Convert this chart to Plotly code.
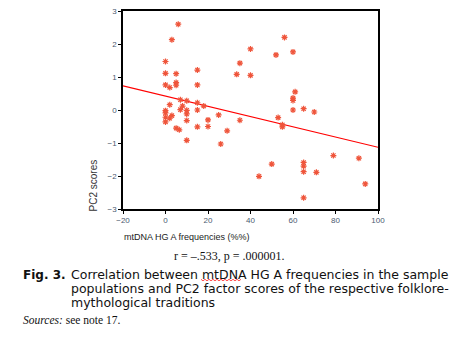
import plotly.graph_objects as go

hg_a = [6, 3, 0, 0, 5, 0, 2, 5, 5, 15, 15, 7, 10, 2, 8, 15, 18, 7, 10, 15,
        0, 0, 0, 0, 2, 3, 5, 6.5, 10, 10, 10, 15, 20, 20, 25, 26, 29, 35,
        33.5, 35, 40, 40, 56, 52, 60, 61, 60, 60, 60, 65, 70, 53, 55, 55,
        44, 50, 65, 65, 65, 71, 65, 79, 91, 94]
pc2 = [2.6, 2.13, 1.47, 1.11, 1.1, 0.76, 0.68, 0.83, 0.75, 1.21, 0.76, 0.31,
       0.28, 0.16, 0.12, 0.22, 0.12, 0.01, -0.01, 0.0,
       -0.02, -0.09, -0.22, -0.36, -0.25, -0.17, -0.55, -0.6, -0.12, -0.32,
       -0.92, -0.51, -0.3, -0.5, -0.15, -1.03, -0.63, -0.31,
       1.08, 1.42, 1.85, 1.05, 2.2, 1.67, 1.76, 0.55, 0.36, 0.29, 0.0, 0.04,
       -0.06, -0.23, -0.45, -0.51,
       -2.01, -1.64, -1.59, -1.7, -1.87, -1.89, -2.66, -1.38, -1.46, -2.24]

fit_x = [-20, 100]
fit_y = [0.73, -1.13]

x_ticks = [-20, 0, 20, 40, 60, 80, 100]
y_ticks = [-3, -2, -1, 0, 1, 2, 3]

fig = go.Figure()
fig.add_trace(go.Scatter(x=fit_x, y=fit_y, mode="lines",
                         line=dict(color="#ff0000", width=1.2),
                         showlegend=False, hoverinfo="skip"))
fig.add_trace(go.Scatter(x=hg_a, y=pc2, mode="markers",
                         marker=dict(symbol="asterisk-open", size=5,
                                     line=dict(color="#ff0000", width=1.2)),
                         showlegend=False))

tick_font = dict(family="Liberation Sans, Arial", size=8, color="#4a5a70")
fig.update_xaxes(range=[-20, 100], tickvals=x_ticks, ticks="outside", ticklen=3,
                 tickcolor="black", showline=True, linecolor="black", linewidth=1.6,
                 mirror=True, showgrid=False, zeroline=False, tickfont=tick_font)
fig.update_yaxes(range=[-3, 3], tickvals=y_ticks, ticks="outside", ticklen=3,
                 tickcolor="black", showline=True, linecolor="black", linewidth=1.6,
                 mirror=True, showgrid=False, zeroline=False, tickfont=tick_font)

L, R, T, B = 123, 378, 7, 209
fig.update_layout(
    width=459, height=340,
    margin=dict(l=L, r=459 - R, t=T, b=340 - B),
    paper_bgcolor="white", plot_bgcolor="white",
)

def px(x, y):
    return (x - L) / (R - L), (B - y) / (B - T)

def add_text(text, x, y, font, xanchor="left", yanchor="middle", angle=0):
    xp, yp = px(x, y)
    fig.add_annotation(text=text, x=xp, y=yp, xref="paper", yref="paper",
                       showarrow=False, xanchor=xanchor, yanchor=yanchor,
                       textangle=angle, font=font)

add_text("PC2 scores", 93, 185,
         dict(family="Liberation Sans, Arial", size=10, color="#333"),
         xanchor="center", angle=-90)
add_text("mtDNA HG A frequencies (%%)", 122, 238,
         dict(family="Liberation Sans, Arial", size=9, color="#222"))
add_text("r = \u2013.533, p = .000001.", 229, 257,
         dict(family="Liberation Serif, Times New Roman", size=12, color="#111"),
         xanchor="center")
vfont = dict(family="DejaVu Sans, Verdana", size=12.5, color="#111")
add_text("<b>Fig. 3.</b>", 21, 276, dict(family="DejaVu Sans, Verdana", size=12, color="#111"))
add_text("Correlation between mtDNA HG A frequencies in the sample", 69, 276, vfont)
add_text("populations and PC2 factor scores of the respective folklore-", 69, 290, vfont)
add_text("mythological traditions", 69, 304, vfont)
add_text("<i>Sources:</i> see note 17.", 21, 322,
         dict(family="Liberation Serif, Times New Roman", size=11.5, color="#111"))

# spell-check squiggle under "mtDNA"
x0, x1, yq = 201, 242, 281.5
pts = []
xx = x0
up = True
while xx <= x1:
    xp, yp = px(xx, yq - (0.8 if up else -0.8))
    pts.append(f"{xp:.4f},{yp:.4f}")
    xx += 2
    up = not up
path = "M " + " L ".join(pts)
fig.add_shape(type="path", path=path, xref="paper", yref="paper",
              line=dict(color="#ff2020", width=0.8))

fig.write_html("out.html")
